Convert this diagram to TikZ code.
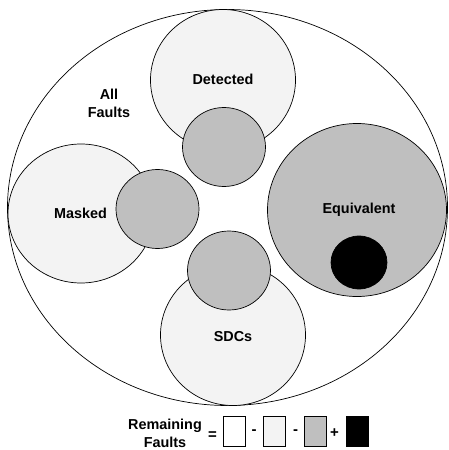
\documentclass[tikz,border=0pt]{standalone}
\usepackage{fontspec}
\setmainfont{Liberation Sans}
\definecolor{lightf}{HTML}{F3F3F3}
\definecolor{grayf}{HTML}{BFBFBF}
\begin{document}
\begin{tikzpicture}[x=1pt,y=-1pt,
  ring/.style={draw=black,line width=0.7pt},
  lbl/.style={font=\fontsize{14.4}{18}\selectfont\bfseries,align=center,inner sep=0pt},
  legbox/.style={draw=black,line width=0.7pt,minimum width=22pt,minimum height=30pt,inner sep=0pt},
  op/.style={font=\fontsize{15}{18}\selectfont\bfseries,inner sep=0pt}]
\useasboundingbox (0,0) rectangle (448,450);
% outer set
\draw[ring,fill=white] (227.5,207.5) ellipse [x radius=220, y radius=198];
% light ellipses
\draw[ring,fill=lightf] (223,80) ellipse [x radius=72.5, y radius=70.5];
\draw[ring,fill=lightf] (81,213.5) ellipse [x radius=73, y radius=69.5];
\draw[ring,fill=lightf] (233,335) ellipse [x radius=72.5, y radius=70.5];
% grey overlaps
\draw[ring,fill=grayf] (224,147) ellipse [x radius=41.5, y radius=39.5];
\draw[ring,fill=grayf] (157.5,209) ellipse [x radius=41.5, y radius=39.5];
\draw[ring,fill=grayf] (229,270.5) ellipse [x radius=41.5, y radius=39.5];
% equivalent
\draw[ring,fill=grayf] (357,210) ellipse [x radius=89.5, y radius=86.5];
\draw[ring,fill=black] (359,262.5) ellipse [x radius=28, y radius=26.5];
% labels
\node[lbl] (det) at (223,79) {Detected};
\node[lbl] (all) at (109,103) {All\\Faults};
\node[lbl] (mask) at (80.5,213.5) {Masked};
\node[lbl] (equiv) at (359,210) {Equivalent};
\node[lbl] (sdc) at (233,337) {SDCs};
% legend
\node[lbl] (rem) at (165,433.5) {Remaining\\Faults};
\node[op] (eq) at (212.5,436) {=};
\node[legbox,fill=white] (b1) at (234.5,431.5) {};
\node[op] (m1) at (254,432.5) {-};
\node[legbox,fill=lightf] (b2) at (274.5,431.5) {};
\node[op] (m2) at (295.5,432.5) {-};
\node[legbox,fill=grayf] (b3) at (315.5,431.5) {};
\node[op] (pl) at (334.5,433) {+};
\node[legbox,fill=black] (b4) at (357,431.5) {};
\end{tikzpicture}
\end{document}
